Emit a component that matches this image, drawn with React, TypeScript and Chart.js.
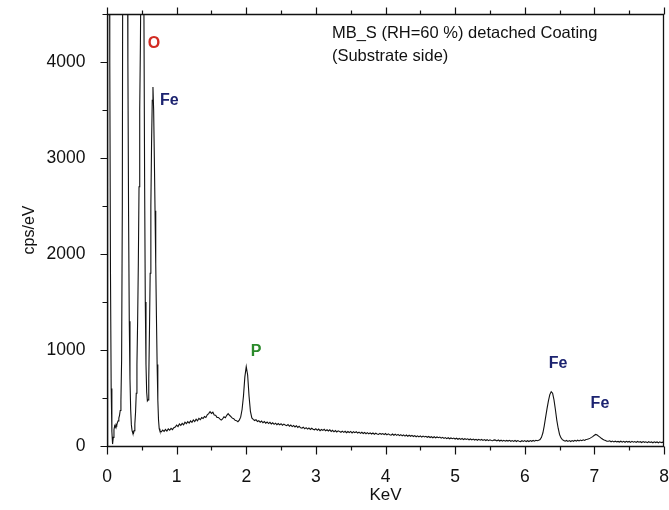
import React, { useEffect, useRef } from 'react';
import { Chart, registerables } from 'chart.js';

Chart.register(...registerables);

// ---- Spectrum data ----
// Low-energy part: channels 0.00 .. 0.76 keV, every 0.01 keV
const lowStart = 0.0;
const lowStep = 0.01;
const lowCounts = [
  0, 6000, 9000, 7000, 4000, 1800, 600, 150, 20, 90,
  170, 210, 195, 225, 215, 245, 262, 290, 320, 370,
  470, 900, 2500, 7000, 12000, 15500, 16000, 13500, 9000, 6000,
  4000, 2400, 1300, 700, 380, 220, 160, 135, 130, 160,
  230, 350, 550, 850, 1300, 1900, 2700, 3500, 4200, 5200,
  6500, 7000, 6300, 4600, 2800, 1500, 850, 560, 470, 480,
  700, 1200, 1800, 2500, 3150, 3600, 3740, 3500, 3000, 2450,
  1900, 1350, 850, 480, 270, 180, 155,
];

// Rest of the spectrum: channels 0.78 .. 8.00 keV, every 0.02 keV
const highStart = 0.78;
const highStep = 0.02;
const highCounts = [
  148, 165, 152, 172, 156, 178, 164, 184, 170, 190,
  198, 218, 203, 229, 215, 236, 221, 248, 233, 253,
  238, 262, 247, 272, 255, 280, 262, 288, 274, 296,
  286, 308, 298, 325, 338, 358, 340, 352, 322, 320,
  298, 297, 282, 270, 282, 304, 294, 320, 337, 320,
  307, 290, 284, 268, 264, 253, 270, 300, 380, 520,
  720, 826, 740, 520, 360, 292, 278, 266, 274, 256,
  264, 248, 260, 242, 254, 238, 250, 234, 247, 230,
  242, 226, 238, 222, 234, 220, 232, 216, 228, 219,
  212, 224, 206, 218, 202, 214, 198, 211, 194, 206,
  190, 187, 196, 179, 191, 176, 188, 172, 185, 175,
  169, 180, 164, 176, 160, 172, 163, 174, 158, 169,
  156, 168, 152, 164, 148, 161, 146, 158, 150, 143,
  155, 142, 153, 138, 151, 140, 152, 136, 149, 139,
  148, 135, 145, 132, 143, 130, 141, 128, 139, 127,
  137, 125, 135, 123, 133, 126, 120, 132, 122, 129,
  119, 130, 116, 127, 118, 113, 125, 112, 123, 111,
  121, 108, 118, 106, 116, 103, 114, 102, 112, 101,
  111, 99, 108, 96, 106, 95, 105, 93, 103, 94,
  101, 91, 99, 88, 97, 86, 96, 85, 94, 86,
  93, 82, 90, 79, 88, 77, 86, 75, 84, 76,
  83, 73, 81, 70, 79, 69, 78, 67, 76, 68,
  75, 65, 73, 63, 72, 62, 70, 60, 69, 61,
  68, 58, 67, 57, 66, 56, 65, 58, 55, 64,
  61, 53, 63, 52, 60, 51, 59, 50, 58, 51,
  59, 49, 57, 48, 58, 47, 56, 49, 46, 55,
  48, 56, 46, 55, 47, 57, 49, 58, 50, 59,
  55, 60, 68, 90, 135, 210, 300, 390, 470, 535,
  566, 550, 480, 380, 270, 185, 120, 85, 66, 58,
  50, 58, 48, 56, 47, 57, 49, 59, 51, 60,
  53, 62, 55, 65, 58, 67, 70, 75, 82, 90,
  100, 112, 120, 114, 103, 92, 80, 70, 62, 57,
  50, 49, 54, 44, 51, 42, 50, 43, 48, 41,
  50, 40, 48, 39, 49, 41, 47, 38, 48, 40,
  46, 37, 47, 39, 45, 36, 46, 38, 44, 35,
  45, 37, 43, 34, 44, 36, 42, 33, 43, 35,
  40, 34,
];

// Axes
const xMin = 0;
const xMax = 8;
const xTickValues = [0, 1, 2, 3, 4, 5, 6, 7, 8];
const xMinorStep = 0.5;
const yMin = 0;
const yMax = 4500;
const yTickValues = [0, 1000, 2000, 3000, 4000];
const yMinorStep = 500;
const xTitle = 'KeV';
const yTitle = 'cps/eV';

// Peak labels
const peakLabelText = ['O', 'Fe', 'P', 'Fe', 'Fe'];
const peakLabelKeV = [0.675, 0.895, 2.14, 6.48, 7.08];
const peakLabelCps = [4190, 3600, 980, 855, 440];
const peakLabelColor = ['#d22b22', '#1c2370', '#2b8a2b', '#1c2370', '#1c2370'];

// Title note
const noteLines = ['MB_S (RH=60 %) detached Coating', '(Substrate side)'];
const noteKeV = 3.23;
const noteCps = [4300, 4060];

const FONT = "'Liberation Sans', Arial, Helvetica, sans-serif";

function buildPoints() {
  const pts: { x: number; y: number }[] = [];
  lowCounts.forEach((c, i) => pts.push({ x: +(lowStart + i * lowStep).toFixed(3), y: c }));
  highCounts.forEach((c, i) => pts.push({ x: +(highStart + i * highStep).toFixed(3), y: c }));
  return pts;
}

const framePlugin = {
  id: 'frameTicks',
  afterDraw(chart: any) {
    const { ctx, chartArea: a, scales } = chart;
    const xs = scales.x;
    const ys = scales.y;
    ctx.save();
    ctx.strokeStyle = '#111';
    ctx.lineWidth = 1.3;
    const L = Math.round(a.left) + 0.5;
    const R = Math.round(a.right) - 0.5;
    const T = Math.round(a.top) + 0.5;
    const B = Math.round(a.bottom) + 0.5;
    ctx.beginPath();
    ctx.moveTo(L, T);
    ctx.lineTo(R, T);
    ctx.lineTo(R, B);
    ctx.lineTo(L, B);
    ctx.closePath();
    ctx.stroke();

    // ticks
    ctx.lineWidth = 1.2;
    ctx.beginPath();
    for (let v = xMin; v <= xMax + 1e-9; v += xMinorStep) {
      const major = xTickValues.some((t) => Math.abs(t - v) < 1e-6);
      const px = Math.round(xs.getPixelForValue(v)) + 0.5;
      ctx.moveTo(px, B);
      ctx.lineTo(px, B + (major ? 8 : 4));
      ctx.moveTo(px, T);
      ctx.lineTo(px, T - (major ? 7 : 4));
    }
    for (let v = yMin; v <= yMax + 1e-9; v += yMinorStep) {
      const major = yTickValues.some((t) => Math.abs(t - v) < 1e-6);
      const py = Math.round(ys.getPixelForValue(v)) + 0.5;
      ctx.moveTo(L, py);
      ctx.lineTo(L - (major ? 7 : 5), py);
    }
    ctx.stroke();

    // tick labels
    ctx.fillStyle = '#111';
    ctx.font = `17.5px ${FONT}`;
    ctx.textBaseline = 'middle';
    ctx.textAlign = 'center';
    xTickValues.forEach((v) => ctx.fillText(String(v), xs.getPixelForValue(v), B + 31));
    ctx.textAlign = 'right';
    yTickValues.forEach((v) => ctx.fillText(String(v), L - 22, ys.getPixelForValue(v)));

    // axis titles
    ctx.font = `17px ${FONT}`;
    ctx.textAlign = 'center';
    ctx.fillText(xTitle, (a.left + a.right) / 2, 495);
    ctx.save();
    ctx.translate(30, (a.top + a.bottom) / 2);
    ctx.rotate(-Math.PI / 2);
    ctx.font = `16px ${FONT}`;
    ctx.fillText(yTitle, 0, 0);
    ctx.restore();

    // peak labels
    ctx.textAlign = 'center';
    ctx.font = `bold 16px ${FONT}`;
    peakLabelText.forEach((t, i) => {
      ctx.fillStyle = peakLabelColor[i];
      ctx.fillText(t, xs.getPixelForValue(peakLabelKeV[i]), ys.getPixelForValue(peakLabelCps[i]));
    });
    // note
    ctx.textAlign = 'left';
    ctx.fillStyle = '#111';
    ctx.font = `16.5px ${FONT}`;
    noteLines.forEach((t, i) => {
      ctx.fillText(t, xs.getPixelForValue(noteKeV), ys.getPixelForValue(noteCps[i]));
    });
    ctx.restore();
  },
};

export default function App() {
  const ref = useRef<HTMLCanvasElement | null>(null);
  useEffect(() => {
    if (!ref.current) return;
    const chart = new Chart(ref.current, {
      type: 'line',
      data: {
        datasets: [
          {
            data: buildPoints(),
            borderColor: '#111',
            borderWidth: 1.1,
            pointRadius: 0,
            tension: 0,
            fill: false,
          },
        ],
      },
      options: {
        responsive: false,
        animation: false,
        events: [],
        layout: { padding: { top: 14, right: 5, left: 107, bottom: 64 } },
        plugins: { legend: { display: false }, tooltip: { enabled: false } },
        scales: {
          x: { type: 'linear', min: xMin, max: xMax, display: false },
          y: { type: 'linear', min: yMin, max: yMax, display: false },
        },
      },
      plugins: [framePlugin],
    });
    return () => chart.destroy();
  }, []);
  return (
    <div style={{ position: 'absolute', left: 0, top: 0, width: 669, height: 510, background: '#fff' }}>
      <canvas ref={ref} width={669} height={510} style={{ display: 'block' }} />
    </div>
  );
}
